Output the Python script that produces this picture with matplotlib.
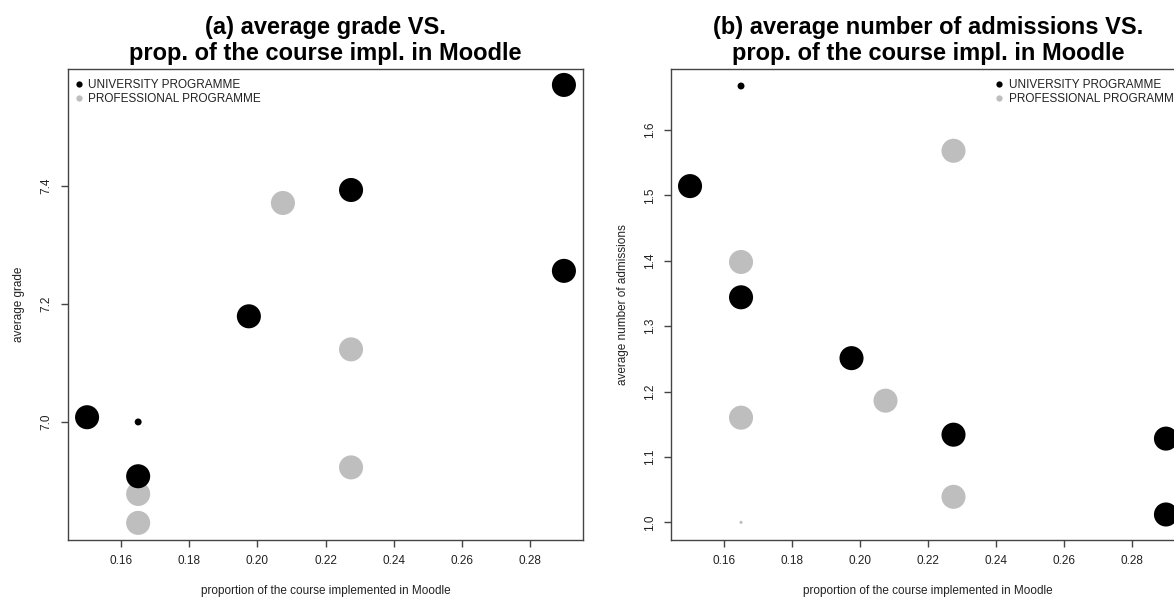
import matplotlib
matplotlib.use("Agg")
import matplotlib.pyplot as plt
from matplotlib.lines import Line2D

plt.rcParams['font.family'] = ['Liberation Sans', 'DejaVu Sans']

# proportion of the course implemented in Moodle
uni_x = [0.15, 0.165, 0.165, 0.1975, 0.2275, 0.29, 0.29]
pro_x = [0.165, 0.165, 0.165, 0.2075, 0.2275, 0.2275]

# (a) average grade
uni_grade = [7.008, 7.0, 6.908, 7.179, 7.393, 7.571, 7.256]
pro_grade = [6.878, 6.829, 7.0, 7.371, 7.123, 6.923]

# (b) average number of admissions
uni_adm = [1.514, 1.667, 1.344, 1.251, 1.134, 1.128, 1.012]
pro_adm = [1.398, 1.16, 1.0, 1.186, 1.568, 1.039]

# bubble sizes (pt^2)
uni_size_a = [300, 25, 300, 300, 300, 300, 300]
pro_size_a = [300, 300, 0, 300, 300, 300]
uni_size_b = [300, 25, 300, 300, 300, 300, 300]
pro_size_b = [300, 300, 5, 300, 300, 300]

legend_labels = ["UNIVERSITY PROGRAMME", "PROFESSIONAL PROGRAMME"]
BLACK = "#000000"
GREY = "#bebebe"
AXC = "#444444"

fig = plt.figure(figsize=(11.74, 5.97), dpi=100)
ax1 = fig.add_axes([68 / 1174, 57 / 597, 515 / 1174, 471 / 597])
ax2 = fig.add_axes([671 / 1174, 57 / 597, 514 / 1174, 471 / 597])


def style(ax, title, ylabel, yticks, ylim):
    ax.set_xlim(0.1444, 0.2956)
    ax.set_ylim(*ylim)
    ax.set_xticks([0.16, 0.18, 0.20, 0.22, 0.24, 0.26, 0.28])
    ax.set_xticklabels(["0.16", "0.18", "0.20", "0.22", "0.24", "0.26", "0.28"])
    ax.set_yticks(yticks)
    ax.set_yticklabels(["%.1f" % v for v in yticks], rotation=90, va="center")
    ax.tick_params(length=5, width=1, color=AXC, labelcolor="#222222",
                   labelsize=8.5, pad=6)
    for s in ax.spines.values():
        s.set_color(AXC)
        s.set_linewidth(1)
    ax.set_title(title, fontsize=17, fontweight="bold", pad=6.5, linespacing=1.15)
    ax.set_xlabel("proportion of the course implemented in Moodle",
                  fontsize=8.5, color="#222222")
    ax.xaxis.set_label_coords(0.5, -0.095)
    ax.set_ylabel(ylabel, fontsize=8.5, color="#222222")
    ax.yaxis.label.set_va("center")


def add_legend(ax, anchor):
    handles = [Line2D([], [], ls="", marker="o", ms=4.5, mec="none", mfc=c)
               for c in (BLACK, GREY)]
    leg = ax.legend(handles, legend_labels, loc="upper left", bbox_to_anchor=anchor,
                    frameon=False, fontsize=8.5, borderpad=0, borderaxespad=0,
                    handlelength=0.6, handletextpad=0.5, labelspacing=0.2)
    for t in leg.get_texts():
        t.set_color("#222222")


ax1.scatter(uni_x, uni_grade, s=uni_size_a, c=BLACK, linewidths=0, zorder=3)
ax1.scatter(pro_x, pro_grade, s=pro_size_a, c=GREY, linewidths=0, zorder=2)
style(ax1, "(a) average grade VS.\nprop. of the course impl. in Moodle",
      "average grade", [7.0, 7.2, 7.4], (6.8, 7.598))
ax1.yaxis.set_label_coords(-0.095, 0.5)
add_legend(ax1, (0.014, 0.979))

ax2.scatter(uni_x, uni_adm, s=uni_size_b, c=BLACK, linewidths=0, zorder=3)
ax2.scatter(pro_x, pro_adm, s=pro_size_b, c=GREY, linewidths=0, zorder=2)
style(ax2, "(b) average number of admissions VS.\nprop. of the course impl. in Moodle",
      "average number of admissions", [1.0, 1.1, 1.2, 1.3, 1.4, 1.5, 1.6],
      (0.973, 1.693))
ax2.yaxis.set_label_coords(-0.093, 0.5)
add_legend(ax2, (0.632, 0.979))

fig.savefig("out.png", dpi=100)
